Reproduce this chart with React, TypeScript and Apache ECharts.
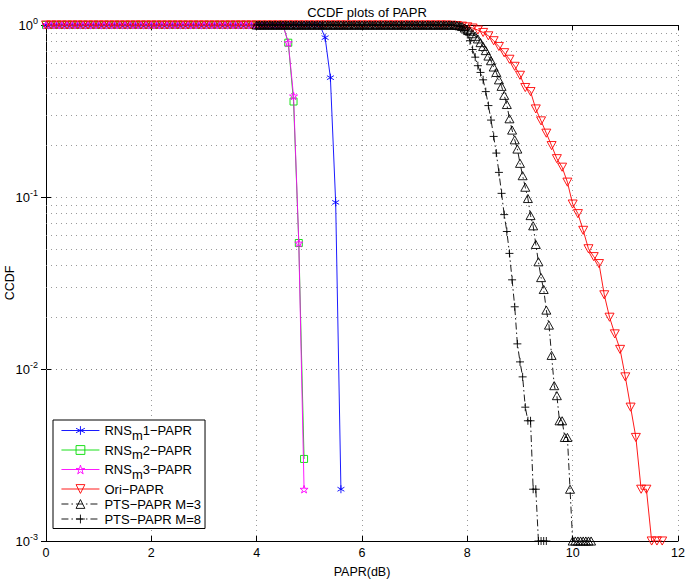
import React, { useEffect, useRef } from "react";
import * as echarts from "echarts";

// ---- sampling grids (PAPR threshold, dB) ----
const rnsStart = 0;
const rnsStep = 0.1;
const oriStart = 0;
const oriStep = 0.1;
const ptsStart = 4;
const ptsStep = 0.05;

// ---- CCDF values ----
const rns1Ccdf = [
  1, 1, 1, 1, 1, 1, 1, 1, 1, 1,
  1, 1, 1, 1, 1, 1, 1, 1, 1, 1,
  1, 1, 1, 1, 1, 1, 1, 1, 1, 1,
  1, 1, 1, 1, 1, 1, 1, 1, 1, 1,
  1, 1, 1, 1, 1, 1, 1, 1, 1, 1,
  1, 1, 1,
  0.844, 0.494, 0.093, 0.002,
];
const rns2Ccdf = [
  1, 1, 1, 1, 1, 1, 1, 1, 1, 1,
  1, 1, 1, 1, 1, 1, 1, 1, 1, 1,
  1, 1, 1, 1, 1, 1, 1, 1, 1, 1,
  1, 1, 1, 1, 1, 1, 1, 1, 1, 1,
  1, 1, 1, 1, 1, 1,
  0.789, 0.359, 0.054, 0.003,
];
const rns3Ccdf = [
  1, 1, 1, 1, 1, 1, 1, 1, 1, 1,
  1, 1, 1, 1, 1, 1, 1, 1, 1, 1,
  1, 1, 1, 1, 1, 1, 1, 1, 1, 1,
  1, 1, 1, 1, 1, 1, 1, 1, 1, 1,
  1, 1, 1, 1, 1, 1,
  0.789, 0.387, 0.054, 0.002,
];
const oriCcdf = [
  1, 1, 1, 1, 1, 1, 1, 1, 1, 1,
  1, 1, 1, 1, 1, 1, 1, 1, 1, 1,
  1, 1, 1, 1, 1, 1, 1, 1, 1, 1,
  1, 1, 1, 1, 1, 1, 1, 1, 1, 1,
  1, 1, 1, 1, 1, 1, 1, 1, 1, 1,
  1, 1, 1, 1, 1, 1, 1, 1, 1, 1,
  1, 1, 1, 1, 1, 1, 1, 1, 1, 1,
  1, 1, 1, 1, 1, 1, 1,
  0.997, 0.993, 0.985, 0.975, 0.96, 0.935, 0.905, 0.865, 0.81, 0.75,
  0.69, 0.632, 0.575, 0.51, 0.433, 0.41, 0.325, 0.277, 0.235, 0.199,
  0.167, 0.149, 0.122, 0.091, 0.08, 0.064, 0.05, 0.045, 0.041, 0.027,
  0.02, 0.016, 0.013, 0.009, 0.006, 0.004, 0.002, 0.002, 0.001, 0.001,
  0.001,
];
const pts3Ccdf = [
  1, 1, 1, 1, 1, 1, 1, 1, 1, 1,
  1, 1, 1, 1, 1, 1, 1, 1, 1, 1,
  1, 1, 1, 1, 1, 1, 1, 1, 1, 1,
  1, 1, 1, 1, 1, 1, 1, 1, 1, 1,
  1, 1, 1, 1, 1, 1, 1, 1, 1, 1,
  1, 1, 1, 1, 1, 1, 1, 1, 1, 1,
  1, 1, 1, 1, 1, 1, 1, 1, 1, 1,
  1, 1, 1, 1, 1, 1,
  0.995, 0.99, 0.98, 0.96, 0.94, 0.92, 0.89, 0.86, 0.83, 0.79,
  0.75, 0.71, 0.66, 0.62, 0.57, 0.53, 0.48, 0.44, 0.39, 0.345,
  0.285, 0.245, 0.215, 0.19, 0.157, 0.133, 0.114, 0.098, 0.078, 0.068,
  0.053, 0.042, 0.034, 0.029, 0.022, 0.018, 0.012, 0.008, 0.007, 0.005,
  0.005, 0.004, 0.004, 0.002, 0.001, 0.001, 0.001, 0.001, 0.001, 0.001,
  0.001, 0.001,
];
const pts8Ccdf = [
  1, 1, 1, 1, 1, 1, 1, 1, 1, 1,
  1, 1, 1, 1, 1, 1, 1, 1, 1, 1,
  1, 1, 1, 1, 1, 1, 1, 1, 1, 1,
  1, 1, 1, 1, 1, 1, 1, 1, 1, 1,
  1, 1, 1, 1, 1, 1, 1, 1, 1, 1,
  1, 1, 1, 1, 1, 1, 1, 1, 1, 1,
  1, 1, 1, 1, 1, 1, 1, 1, 1, 1,
  1, 1, 1, 1, 1,
  0.995, 0.99, 0.98, 0.96, 0.93, 0.88, 0.81, 0.72, 0.65, 0.58,
  0.53, 0.48, 0.41, 0.34, 0.28, 0.225, 0.18, 0.139, 0.105, 0.079,
  0.063, 0.047, 0.033, 0.023, 0.014, 0.011, 0.009, 0.006, 0.005, 0.005,
  0.002, 0.002, 0.001, 0.001, 0.001, 0.001,
];

// ---- axis ticks ----
const xTicks = [0, 2, 4, 6, 8, 10, 12];
const yMinorLevels = [
  0.002, 0.003, 0.004, 0.005, 0.006, 0.007, 0.008, 0.009,
  0.02, 0.03, 0.04, 0.05, 0.06, 0.07, 0.08, 0.09,
  0.2, 0.3, 0.4, 0.5, 0.6, 0.7, 0.8, 0.9,
];

const seriesNames = [
  "RNS_m1−PAPR",
  "RNS_m2−PAPR",
  "RNS_m3−PAPR",
  "Ori−PAPR",
  "PTS−PAPR M=3",
  "PTS−PAPR M=8",
];
const seriesColors = ["#0000ff", "#00dd00", "#ff00ff", "#ff0000", "#000000", "#000000"];

const FONT = "'Liberation Sans', Arial, Helvetica, sans-serif";

const SYM_ASTERISK = "path://M0,-5L0,5M-4.33,-2.5L4.33,2.5M-4.33,2.5L4.33,-2.5";
const SYM_SQUARE = "path://M-1,-1L1,-1L1,1L-1,1Z";
const SYM_PENTA =
  "path://M0,-1L0.2245,-0.309L0.951,-0.309L0.363,0.118L0.588,0.809L0,0.382L-0.588,0.809L-0.363,0.118L-0.951,-0.309L-0.2245,-0.309Z";
const SYM_TRI_DOWN = "path://M-1,-0.9L1,-0.9L0,0.9Z";
const SYM_TRI_UP = "path://M0,-0.9L1,0.9L-1,0.9Z";
const SYM_PLUS = "path://M0,-1L0,1M-1,0L1,0";

function pairs(start: number, step: number, ys: number[]) {
  return ys.map((y, i) => [Math.round((start + i * step) * 1000) / 1000, y]);
}

function makeSeries(
  name: string,
  data: number[][],
  color: string,
  symbol: string,
  size: number,
  dashed: boolean,
  z: number
): any {
  return {
    type: "line",
    name,
    data,
    symbol,
    symbolSize: size,
    symbolKeepAspect: true,
    showAllSymbol: true,
    clip: true,
    z,
    lineStyle: { color, width: 0.9, type: dashed ? [7, 3, 1.5, 3] : "solid" },
    itemStyle: { color: "rgba(0,0,0,0)", borderColor: color, borderWidth: 0.9 },
    emphasis: { disabled: true },
  };
}

export default function App() {
  const ref = useRef<HTMLDivElement>(null);

  useEffect(() => {
    if (!ref.current) return;
    const chart = echarts.init(ref.current, undefined, { renderer: "svg" });

    const s1 = makeSeries(seriesNames[0], pairs(rnsStart, rnsStep, rns1Ccdf), seriesColors[0], SYM_ASTERISK, 8, false, 2);
    s1.markLine = {
      silent: true,
      symbol: "none",
      label: { show: false },
      lineStyle: { color: "#808080", type: [1, 4], width: 0.8 },
      data: yMinorLevels.map((v) => ({ yAxis: v })),
      z: 1,
    };

    const series = [
      s1,
      makeSeries(seriesNames[1], pairs(rnsStart, rnsStep, rns2Ccdf), seriesColors[1], SYM_SQUARE, 7, false, 3),
      makeSeries(seriesNames[2], pairs(rnsStart, rnsStep, rns3Ccdf), seriesColors[2], SYM_PENTA, 8, false, 4),
      makeSeries(seriesNames[3], pairs(oriStart, oriStep, oriCcdf), seriesColors[3], SYM_TRI_DOWN, 9, false, 5),
      makeSeries(seriesNames[4], pairs(ptsStart, ptsStep, pts3Ccdf), seriesColors[4], SYM_TRI_UP, 9, true, 6),
      makeSeries(seriesNames[5], pairs(ptsStart, ptsStep, pts8Ccdf), seriesColors[5], SYM_PLUS, 8, true, 7),
    ];

    const gridLine = { show: true, lineStyle: { color: "#808080", type: [1, 4], width: 0.8 } };

    chart.setOption({
      animation: false,
      backgroundColor: "#ffffff",
      textStyle: { fontFamily: FONT },
      title: {
        text: "CCDF plots of PAPR",
        left: 362,
        top: 1,
        textAlign: "center",
        textStyle: { fontSize: 13, fontWeight: "normal", color: "#000", fontFamily: FONT },
      },
      grid: { left: 46, right: 7, top: 25, bottom: 38, containLabel: false, outerBoundsMode: "none" },
      legend: {
        orient: "vertical",
        left: 53,
        top: 420,
        padding: [4, 4, 3, 8],
        itemGap: 2,
        itemWidth: 38,
        itemHeight: 11,
        backgroundColor: "#ffffff",
        borderColor: "#000000",
        borderWidth: 1,
        data: seriesNames.map((name, i) => ({
          name,
          itemStyle: { color: "rgba(0,0,0,0)", borderColor: seriesColors[i], borderWidth: 0.9 },
          lineStyle: { width: 0.9 },
        })),
        formatter: (name: string) => {
          if (name.startsWith("RNS_m")) return "RNS{sub|m}" + name.slice(5);
          return name;
        },
        textStyle: {
          fontSize: 13,
          color: "#000",
          fontFamily: FONT,
          rich: { sub: { fontSize: 13, fontFamily: FONT, color: "#000", padding: [9, 0, 0, 0] } },
        },
      },
      xAxis: [
        {
          type: "value",
          min: xTicks[0],
          max: xTicks[xTicks.length - 1],
          interval: 2,
          name: "PAPR(dB)",
          nameLocation: "middle",
          nameGap: 24,
          nameMoveOverlap: false,
          nameTextStyle: { fontSize: 12.5, color: "#000", fontFamily: FONT },
          axisLine: { show: true, lineStyle: { color: "#000", width: 1 } },
          axisTick: { show: true, inside: true, length: 5, lineStyle: { color: "#000" } },
          axisLabel: { fontSize: 12.5, color: "#000", margin: 5, fontFamily: FONT },
          splitLine: gridLine,
        },
        {
          type: "value",
          position: "top",
          min: xTicks[0],
          max: xTicks[xTicks.length - 1],
          interval: 2,
          axisLine: { show: true, lineStyle: { color: "#000", width: 1 } },
          axisTick: { show: true, inside: true, length: 5, lineStyle: { color: "#000" } },
          axisLabel: { show: false },
          splitLine: { show: false },
        },
      ],
      yAxis: [
        {
          type: "log",
          logBase: 10,
          min: 0.001,
          max: 1,
          name: "CCDF",
          nameLocation: "middle",
          nameGap: 30,
          nameMoveOverlap: false,
          nameTextStyle: { fontSize: 12.5, color: "#000", fontFamily: FONT },
          axisLine: { show: true, lineStyle: { color: "#000", width: 1 } },
          axisTick: { show: true, inside: true, length: 5, lineStyle: { color: "#000" } },
          axisLabel: {
            margin: 8,
            formatter: (v: number) => `{b|10}{e|${Math.round(Math.log10(v))}}`,
            rich: {
              b: { fontSize: 13, color: "#000", fontFamily: FONT },
              e: { fontSize: 9, color: "#000", fontFamily: FONT, verticalAlign: "top", padding: [0, 0, 9, 0] },
            },
          },
          splitLine: gridLine,
        },
        {
          type: "log",
          logBase: 10,
          min: 0.001,
          max: 1,
          position: "right",
          axisLine: { show: true, lineStyle: { color: "#000", width: 1 } },
          axisTick: { show: true, inside: true, length: 5, lineStyle: { color: "#000" } },
          axisLabel: { show: false },
          splitLine: { show: false },
        },
      ],
      series,
    });

    return () => chart.dispose();
  }, []);

  return (
    <div
      ref={ref}
      style={{ position: "fixed", left: 0, top: 0, width: 685, height: 579, background: "#fff" }}
    />
  );
}
